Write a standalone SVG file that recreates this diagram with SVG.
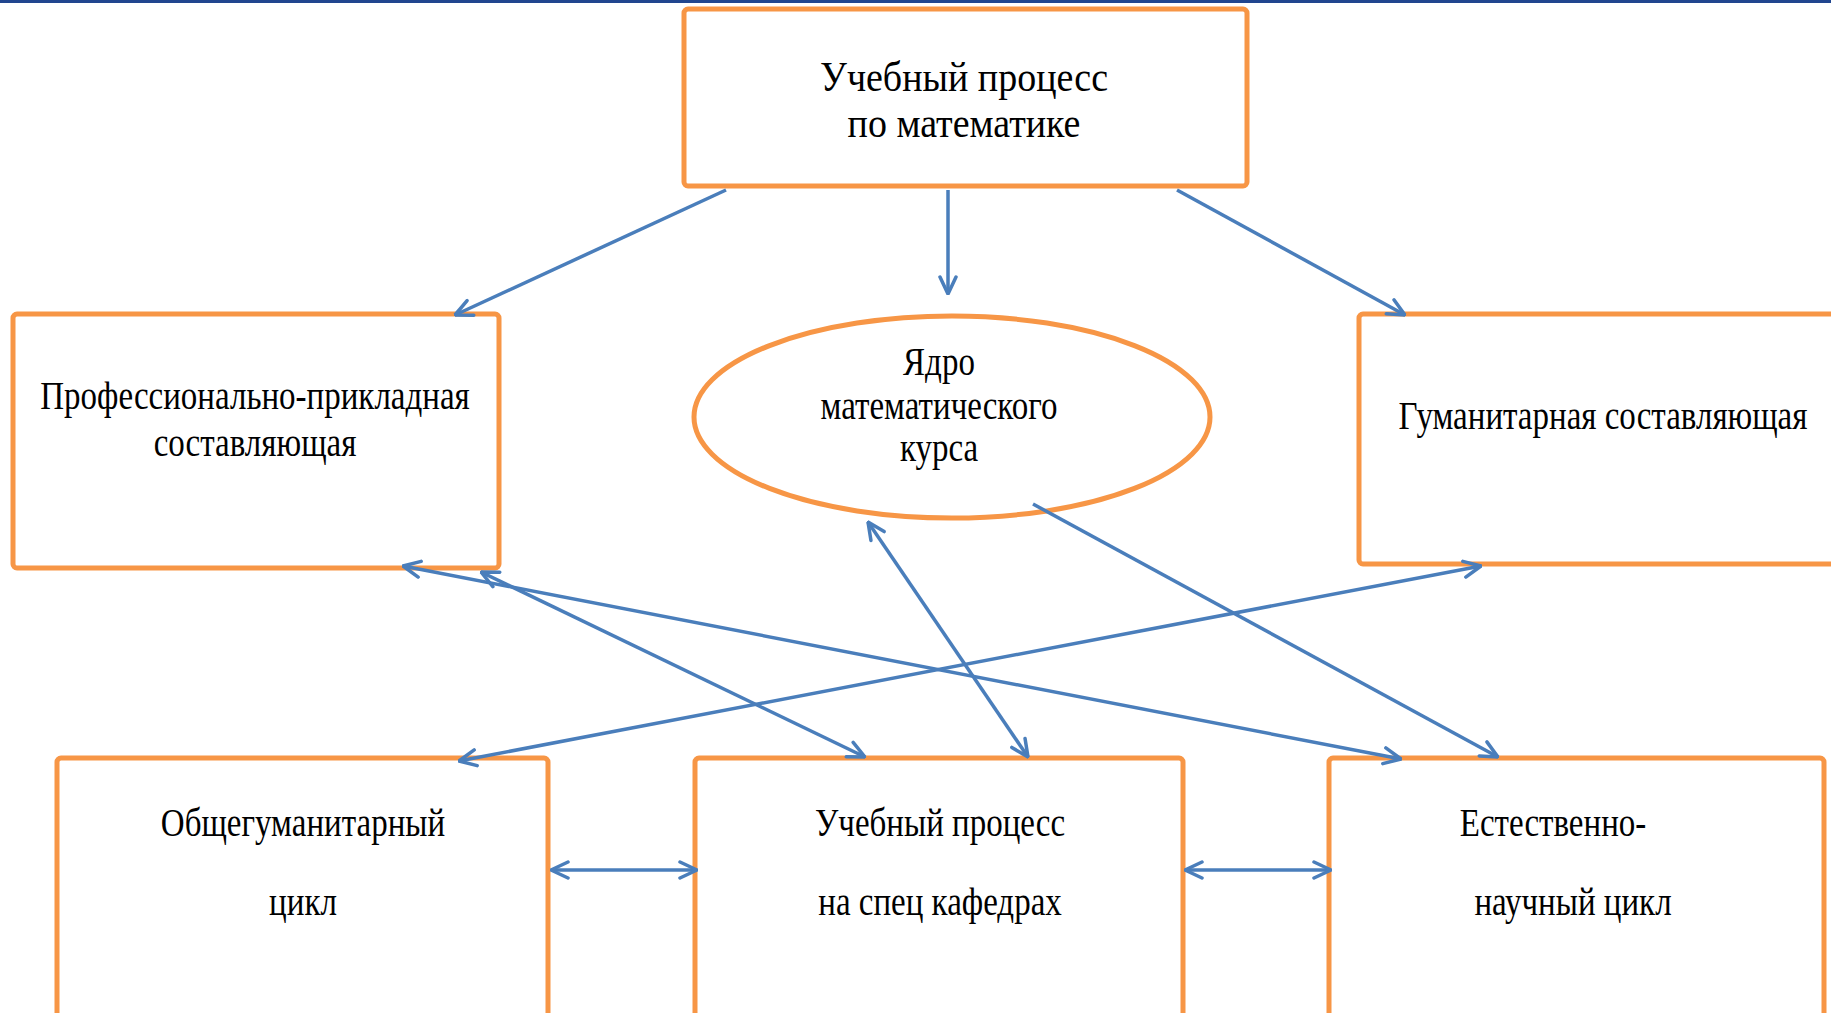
<svg xmlns="http://www.w3.org/2000/svg" width="1831" height="1013" viewBox="0 0 1831 1013">
<defs>
<style>
.box{fill:#ffffff;stroke:#f79646;stroke-width:5}
.t{font-family:"Liberation Serif","Times New Roman",serif;font-size:33px;fill:#000;text-anchor:middle}
.tb{font-size:38px}
.c{fill:none;stroke:#4a7ebb;stroke-width:3.5}
</style>
<marker id="ah" viewBox="0 0 20 20" refX="19" refY="10" markerWidth="20" markerHeight="20" markerUnits="userSpaceOnUse" orient="auto-start-reverse">
<path d="M2,2 L19,10 L2,18" fill="none" stroke="#4a7ebb" stroke-width="3.5" stroke-linecap="round" stroke-linejoin="round"/>
</marker>
</defs>
<rect x="0" y="0" width="1831" height="1013" fill="#ffffff"/>
<rect x="0" y="0" width="1831" height="3" fill="#21468f"/>

<g id="n-top">
<rect class="box" x="684" y="9" width="563" height="177" rx="4"/>
<text class="t tb" transform="translate(964,91) scale(1,1.12)">Учебный процесс</text>
<text class="t tb" transform="translate(964,137) scale(1,1.12)">по математике</text>
</g>
<g id="n-prof">
<rect class="box" x="13" y="314" width="486" height="254" rx="4"/>
<text class="t" transform="translate(255,409) scale(1,1.2)">Профессионально-прикладная</text>
<text class="t" transform="translate(255,456) scale(1,1.2)">составляющая</text>
</g>
<g id="n-core">
<ellipse class="box" cx="952" cy="417" rx="258" ry="101"/>
<text class="t" transform="translate(939,375) scale(1,1.2)">Ядро</text>
<text class="t" transform="translate(939,419) scale(1,1.2)">математического</text>
<text class="t" transform="translate(939,461) scale(1,1.2)">курса</text>
</g>
<g id="n-hum">
<rect class="box" x="1359" y="314" width="480" height="250" rx="4"/>
<text class="t" transform="translate(1603,429) scale(1,1.2)">Гуманитарная составляющая</text>
</g>
<g id="n-gen">
<rect class="box" x="57" y="758" width="491" height="270" rx="4"/>
<text class="t" transform="translate(303,836) scale(1,1.2)">Общегуманитарный</text>
<text class="t" transform="translate(303,915) scale(1,1.2)">цикл</text>
</g>
<g id="n-spec">
<rect class="box" x="695" y="758" width="488" height="270" rx="4"/>
<text class="t" transform="translate(940,836) scale(1,1.2)">Учебный процесс</text>
<text class="t" transform="translate(940,915) scale(1,1.2)">на спец кафедрах</text>
</g>
<g id="n-nat">
<rect class="box" x="1329" y="758" width="495" height="270" rx="4"/>
<text class="t" transform="translate(1553,836) scale(1,1.2)">Естественно-</text>
<text class="t" transform="translate(1573,915) scale(1,1.2)">научный цикл</text>
</g>

<g id="connectors">
<line class="c" x1="726" y1="190" x2="455" y2="315" marker-end="url(#ah)"/>
<line class="c" x1="948" y1="190" x2="948" y2="294" marker-end="url(#ah)"/>
<line class="c" x1="1177" y1="190" x2="1405" y2="315" marker-end="url(#ah)"/>
<line class="c" x1="868" y1="522" x2="1028" y2="757" marker-start="url(#ah)" marker-end="url(#ah)"/>
<line class="c" x1="1033" y1="504" x2="1498" y2="757" marker-end="url(#ah)"/>
<line class="c" x1="403" y1="566" x2="1401" y2="759" marker-start="url(#ah)" marker-end="url(#ah)"/>
<line class="c" x1="481" y1="572" x2="865" y2="757" marker-start="url(#ah)" marker-end="url(#ah)"/>
<line class="c" x1="1481" y1="566" x2="459" y2="761" marker-start="url(#ah)" marker-end="url(#ah)"/>
<line class="c" x1="551" y1="870" x2="697" y2="870" marker-start="url(#ah)" marker-end="url(#ah)"/>
<line class="c" x1="1185" y1="870" x2="1331" y2="870" marker-start="url(#ah)" marker-end="url(#ah)"/>
</g>
</svg>
